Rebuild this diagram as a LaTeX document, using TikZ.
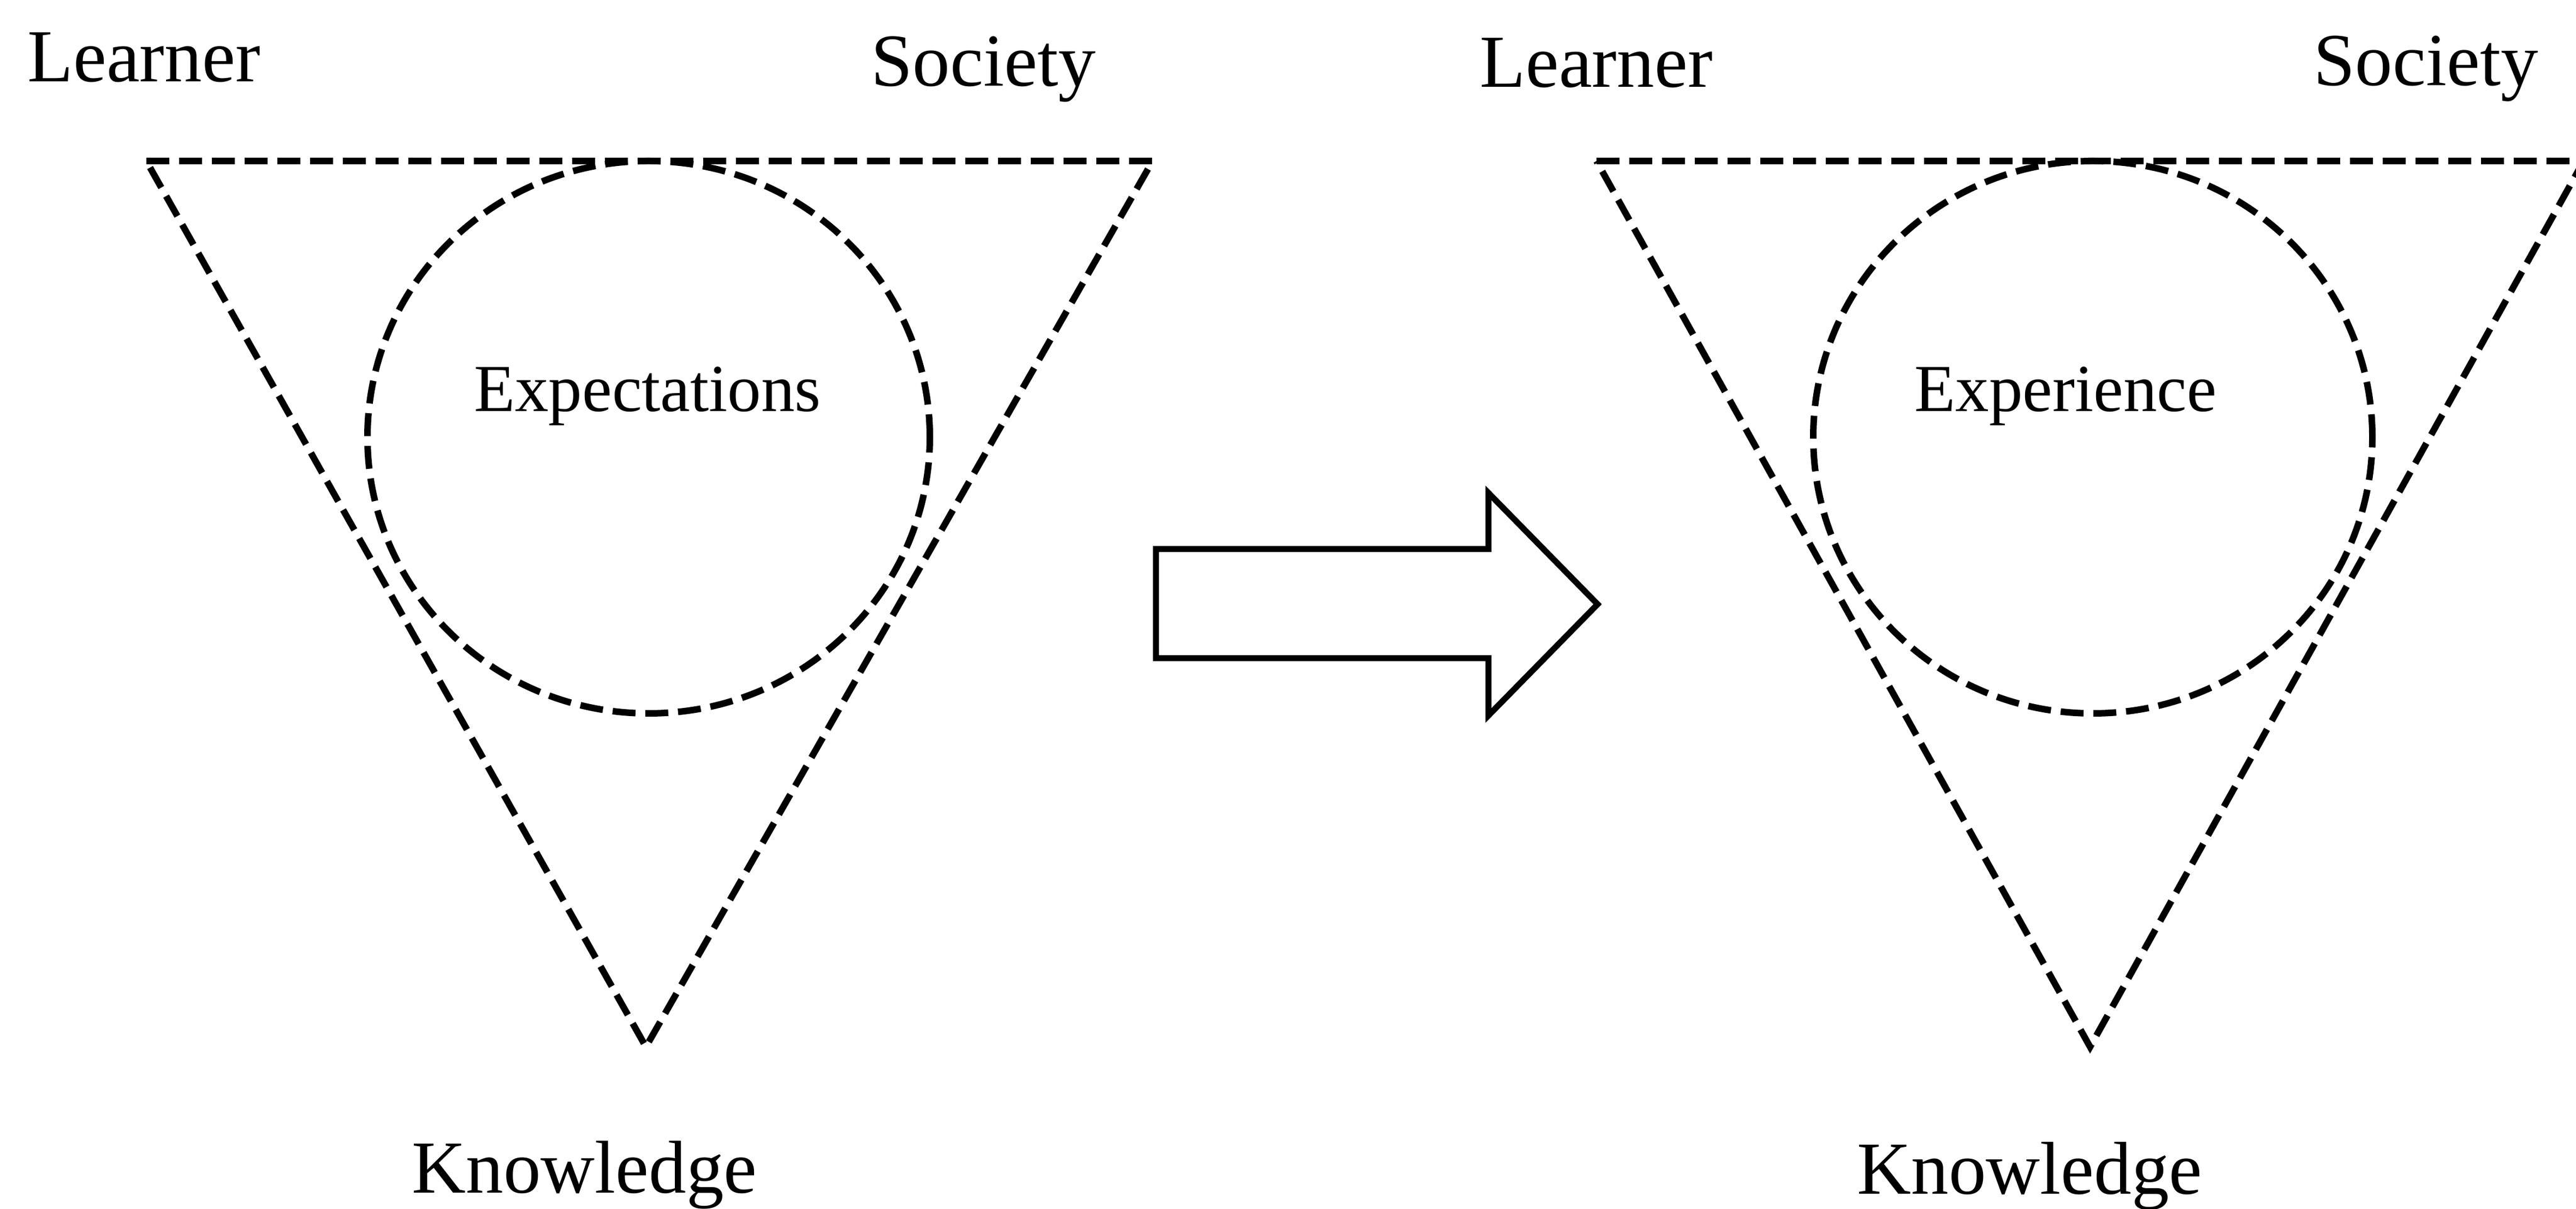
\documentclass[tikz,border=0pt]{standalone}
\usepackage{fontspec}
\setmainfont{Liberation Serif}
\usepackage{tikz}

\begin{document}
\begin{tikzpicture}[line width = 0.11cm,
                    dashline/.style = {line width = 0.12cm, dash pattern = on 0.42cm off 0.18cm, line join = miter},
                    corner/.style = {font = \fontsize{39}{47}\selectfont, inner sep = 0pt, anchor = base west},
                    inner/.style = {font = \fontsize{35}{42}\selectfont, inner sep = 0pt, anchor = base}]

\useasboundingbox (0,0) rectangle (47.18,-22.15);
\clip (0,0) rectangle (47.18,-22.15);

% labels of the left triangle
\node[corner] (LLearner) at (0.45,-1.50) {Learner};
\node[corner] (LSociety) at (15.90,-1.58) {Society};
\node[corner] (LKnowledge) at (7.49,-21.85) {Knowledge};

% labels of the right triangle
\node[corner] (RLearner) at (27.05,-1.60) {Learner};
\node[corner] (RSociety) at (42.32,-1.57) {Society};
\node[corner] (RKnowledge) at (33.96,-21.87) {Knowledge};

% left triangle
\coordinate (L1) at (2.68,-2.95);
\coordinate (L2) at (21.11,-2.95);
\coordinate (L3) at (11.83,-19.18);
\draw[dashline] (L1) -- (L2) -- (L3) -- cycle;
\draw[dashline] (11.88,-8.01) ellipse (5.15 and 5.06);
\node[inner] (Expect) at (11.86,-7.54) {Expectations};

% right triangle
\coordinate (R1) at (29.24,-2.95);
\coordinate (R2) at (47.32,-2.95);
\coordinate (R3) at (38.28,-19.18);
\draw[dashline] (R1) -- (R2) -- (R3) -- cycle;
\draw[dashline] (38.33,-8.01) ellipse (5.12 and 5.06);
\node[inner] (Exper) at (37.83,-7.54) {Experience};

% block arrow
\coordinate (A1) at (21.17,-10.06);
\coordinate (A2) at (27.26,-10.06);
\coordinate (A3) at (27.26,-9.03);
\coordinate (A4) at (29.26,-11.07);
\coordinate (A5) at (27.26,-13.11);
\coordinate (A6) at (27.26,-12.06);
\coordinate (A7) at (21.17,-12.06);
\draw[line join = miter] (A1) -- (A2) -- (A3) -- (A4) -- (A5) -- (A6) -- (A7) -- cycle;
\end{tikzpicture}
\end{document}
